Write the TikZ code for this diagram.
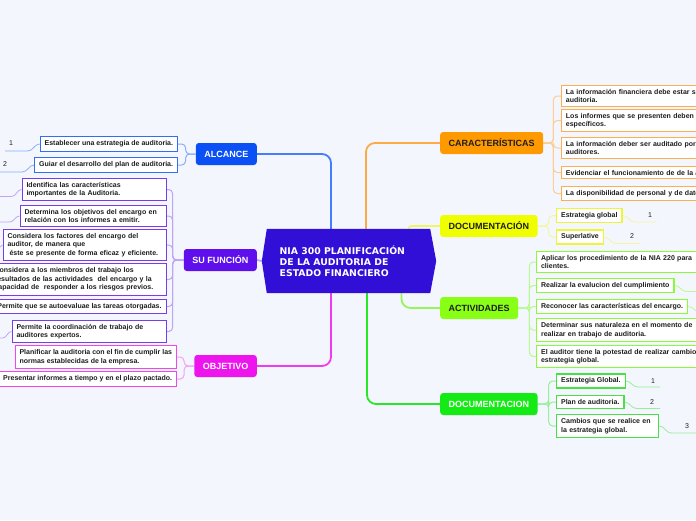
\documentclass[tikz,border=0pt]{standalone}
\usepackage{fontspec}
\setmainfont{Liberation Sans}
\newfontfamily\cenfont{DejaVu Sans}
\pgfdeclarelayer{back}
\pgfsetlayers{back,main}
\definecolor{bg}{RGB}{243,246,253}
\definecolor{txt}{RGB}{30,30,30}
\definecolor{cCen}{RGB}{50,15,215}
\definecolor{cAlc}{RGB}{10,80,245}
\definecolor{cAlcB}{RGB}{50,110,245}
\definecolor{cAlcM}{RGB}{70,125,250}
\definecolor{cAlcL}{RGB}{140,175,250}
\definecolor{cSuf}{RGB}{95,15,235}
\definecolor{cSufB}{RGB}{120,60,235}
\definecolor{cSufM}{RGB}{150,110,245}
\definecolor{cSufL}{RGB}{190,165,248}
\definecolor{cObj}{RGB}{238,20,238}
\definecolor{cObjB}{RGB}{240,70,240}
\definecolor{cObjM}{RGB}{240,60,240}
\definecolor{cObjL}{RGB}{245,160,245}
\definecolor{cCar}{RGB}{255,153,0}
\definecolor{cCarB}{RGB}{252,175,80}
\definecolor{cCarM}{RGB}{252,170,70}
\definecolor{cCarL}{RGB}{252,205,150}
\definecolor{cDoc}{RGB}{240,255,0}
\definecolor{cDocB}{RGB}{235,245,60}
\definecolor{cDocM}{RGB}{240,245,100}
\definecolor{cDocL}{RGB}{245,245,160}
\definecolor{cAct}{RGB}{136,255,20}
\definecolor{cActB}{RGB}{140,250,60}
\definecolor{cActM}{RGB}{150,245,90}
\definecolor{cActL}{RGB}{185,250,145}
\definecolor{cDcn}{RGB}{20,235,20}
\definecolor{cDcnB}{RGB}{70,225,70}
\definecolor{cDcnM}{RGB}{40,230,40}
\definecolor{cDcnL}{RGB}{150,240,150}
\begin{document}
\begin{tikzpicture}[x=1pt,y=-1pt,
  sub/.style={draw, fill=white, line width=0.9pt, font=\fontsize{7}{8.5}\selectfont\bfseries, text=txt, align=left, inner xsep=4.5pt, inner ysep=3.8pt},
  topic/.style={rounded corners=3pt, minimum height=22pt, inner xsep=8.5pt, inner ysep=2pt, font=\fontsize{9}{10}\selectfont\bfseries},
  num/.style={font=\fontsize{7}{8}\selectfont, text=txt, inner sep=1pt},
  mainline/.style={line width=1.8pt, rounded corners=9pt},
  br/.style={line width=1pt, rounded corners=4pt},
  tag/.style={line width=0.8pt},
]
\useasboundingbox (0,0) rectangle (696,520);
\begin{pgfonlayer}{back}
\fill[bg] (0,0) rectangle (696,520);
\end{pgfonlayer}

% central topic
\node[minimum width=163pt, minimum height=64pt, inner sep=0] (c) at (348.5,261) {};
\fill[cCen] (c.north west) -- (c.north east) -- ([xshift=6pt]c.east) -- (c.south east) -- (c.south west) -- ([xshift=-5pt]c.west) -- cycle;
\node[anchor=west, text=white, align=left, font=\cenfont\bfseries\fontsize{9.3}{11}\selectfont, inner sep=0] (ct) at (279.5,261) {NIA 300 PLANIFICACIÓN\\DE LA AUDITORIA DE\\ESTADO FINANCIERO};

% main topics
\node[topic, fill=cAlc, text=white, anchor=east] (alc) at (257,154) {ALCANCE};
\node[topic, fill=cSuf, text=white, anchor=east] (suf) at (257,260) {SU FUNCIÓN};
\node[topic, fill=cObj, text=white, anchor=east] (obj) at (257,366) {OBJETIVO};
\node[topic, fill=cCar, text=txt, anchor=west] (car) at (440,143) {CARACTERÍSTICAS};
\node[topic, fill=cDoc, text=txt, anchor=west] (doc) at (440,226) {DOCUMENTACIÓN};
\node[topic, fill=cAct, text=txt, anchor=west] (act) at (440,308) {ACTIVIDADES};
\node[topic, fill=cDcn, text=white, anchor=west] (dcn) at (440,404) {DOCUMENTACION};

% ALCANCE children
\node[sub, draw=cAlcB, anchor=east] (e1) at (178,144) {Establecer una estrategia de auditoria.};
\node[sub, draw=cAlcB, anchor=east] (e2) at (178,165) {Guiar el desarrollo del plan de auditoria.};
% SU FUNCION children
\node[sub, draw=cSufB, anchor=east, text width=135pt] (s1) at (166.5,189.5) {Identifica las características\\importantes de la Auditoria.};
\node[sub, draw=cSufB, anchor=east, text width=137pt] (s2) at (166.5,216) {Determina los objetivos del encargo en\\relación con los informes a emitir.};
\node[sub, draw=cSufB, anchor=east, text width=154pt] (s3) at (166.5,245) {Considera los factores del encargo del\\auditor, de manera que\\\hspace*{2pt}éste se presente de forma eficaz y eficiente.};
\node[sub, draw=cSufB, anchor=east, text width=167pt] (s4) at (166.5,279.5) {Considera a los miembros del trabajo los\\resultados de las actividades\ \ del encargo y la\\capacidad de\ \ responder a los riesgos previos.};
\node[sub, draw=cSufB, anchor=east] (s5) at (166.5,306.5) {Permite que se autoevaluae las tareas otorgadas.};
\node[sub, draw=cSufB, anchor=east, text width=145pt] (s6) at (166.5,331.5) {Permite la coordinación de trabajo de\\auditores expertos.};
% OBJETIVO children
\node[sub, draw=cObjB, anchor=east] (o1) at (177,357) {Planificar la auditoria con el fin de cumplir las\\normas establecidas de la empresa.};
\node[sub, draw=cObjB, anchor=east] (o2) at (177,379) {Presentar informes a tiempo y en el plazo pactado.};
% CARACTERISTICAS children
\node[sub, draw=cCarB, anchor=west, text width=140pt] (k1) at (561,96) {La información financiera debe estar su\\auditoria.};
\node[sub, draw=cCarB, anchor=west, text width=140pt] (k2) at (561,120.5) {Los informes que se presenten deben s\\específicos.};
\node[sub, draw=cCarB, anchor=west, text width=140pt] (k3) at (561,148) {La información deber ser auditado por\\auditores.};
\node[sub, draw=cCarB, anchor=west, text width=140pt] (k4) at (561,172.5) {Evidenciar el funcionamiento de de la a};
\node[sub, draw=cCarB, anchor=west, text width=140pt] (k5) at (561,193.5) {La disponibilidad de personal y de dato};
% DOCUMENTACION (yellow) children
\node[sub, draw=cDocB, line width=1.2pt, anchor=west] (d1) at (556,215.5) {Estrategia global};
\node[sub, draw=cDocB, line width=1.2pt, anchor=west] (d2) at (556,237) {Superlative};
% ACTIVIDADES children
\node[sub, draw=cActB, line width=1.2pt, anchor=west, text width=165pt] (a1) at (536,262) {Aplicar los procedimiento de la NIA 220 para\\clientes.};
\node[sub, draw=cActB, line width=1.2pt, anchor=west] (a2) at (536,285.5) {Realizar la evalucion del cumplimiento};
\node[sub, draw=cActB, line width=1.2pt, anchor=west] (a3) at (536,306.5) {Reconocer las características del encargo.};
\node[sub, draw=cActB, line width=1.2pt, anchor=west, text width=165pt] (a4) at (536,330) {Determinar sus naturaleza en el momento de\\realizar en trabajo de auditoria.};
\node[sub, draw=cActB, line width=1.2pt, anchor=west, text width=165pt] (a5) at (536,356.5) {El auditor tiene la potestad de realizar cambios\\estrategia global.};
% DOCUMENTACION (green) children
\node[sub, draw=cDcnB, line width=1.2pt, anchor=west] (g1) at (556,381) {Estrategia Global.};
\node[sub, draw=cDcnB, line width=1.2pt, anchor=west] (g2) at (556,402) {Plan de auditoria.};
\node[sub, draw=cDcnB, line width=1.2pt, anchor=west, text width=93pt] (g3) at (556,426) {Cambios que se realice en\\la estrategia global.};

% number labels
\node[num] (n1) at (11,143) {1};
\node[num] (n2) at (5,164.5) {2};
\node[num] (dn1) at (650,215) {1};
\node[num] (dn2) at (632,236.5) {2};
\node[num] (gn1) at (653,381) {1};
\node[num] (gn2) at (652,402) {2};
\node[num] (gn3) at (687,426) {3};

% free ends
\coordinate (t1) at (5,151);
\coordinate (t2) at (0,172);
\coordinate (ts1) at (0,196.5);
\coordinate (ts2) at (0,222);
\coordinate (ts3) at (0,247);
\coordinate (ts6) at (0,338);
\coordinate (td1) at (657,222);
\coordinate (td2) at (640,243.5);
\coordinate (tg1) at (660,387);
\coordinate (tg2) at (660,408.5);
\coordinate (tg3) at (700,433);
\coordinate (ta2) at (710,291.5);
\coordinate (ta3) at (710,312);

\begin{pgfonlayer}{back}
% main connectors
\draw[mainline, cAlcM] (alc.east) -| ([xshift=-17.5pt]c.north);
\draw[mainline, cSufL, rounded corners=0pt] (suf.east) -- ([xshift=-5pt]c.west);
\draw[mainline, cObjM] (obj.east) -| ([xshift=-17.5pt]c.south);
\draw[mainline, cCarM] ([xshift=17.5pt]c.north) |- (car.west);
\draw[mainline, cDocM, rounded corners=3pt] ([xshift=60pt]c.north) |- (doc.west);
\draw[mainline, cActM] ([xshift=53pt]c.south) |- (act.west);
\draw[mainline, cDcnM] ([xshift=18.5pt]c.south) |- (dcn.west);
% branch connectors
\foreach \n in {e1,e2} \draw[br, cAlcL] (alc.west) -- ++(-10,0) |- (\n.east);
\foreach \n in {s1,s2,s3,s4,s5,s6} \draw[br, cSufL] (suf.west) -- ++(-11,0) |- (\n.east);
\foreach \n in {o1,o2} \draw[br, cObjL] (obj.west) -- ++(-10,0) |- (\n.east);
\foreach \n in {k1,k2,k3,k4,k5} \draw[br, cCarL] (car.east) -- ++(10,0) |- (\n.west);
\foreach \n in {d1,d2} \draw[br, cDocL] (doc.east) -- ++(11,0) |- (\n.west);
\foreach \n in {a1,a2,a3,a4,a5} \draw[br, cActL] (act.east) -- ++(11,0) |- (\n.west);
\foreach \n in {g1,g2,g3} \draw[br, cDcnL] (dcn.east) -- ++(11,0) |- (\n.west);
% tag lines
\draw[tag, cAlcL] (e1.west) to[out=180,in=0] ++(-12,7) -- (t1);
\draw[tag, cAlcL] (e2.west) to[out=180,in=0] ++(-12,7) -- (t2);
\draw[tag, cSufL] (s1.west) to[out=180,in=0] ++(-10,7) -- (ts1);
\draw[tag, cSufL] (s2.west) to[out=180,in=0] ++(-10,6) -- (ts2);
\draw[tag, cSufL] (s3.west) to[out=180,in=0] (ts3);
\draw[tag, cSufL] (s6.west) to[out=180,in=0] ++(-9,6.5) -- (ts6);
\draw[tag, cDocL] (d1.east) to[out=0,in=180] ++(12,6.5) -- (td1);
\draw[tag, cDocL] (d2.east) to[out=0,in=180] ++(12,6.5) -- (td2);
\draw[tag, cDcnL] (g1.east) to[out=0,in=180] ++(12,6) -- (tg1);
\draw[tag, cDcnL] (g2.east) to[out=0,in=180] ++(12,6.5) -- (tg2);
\draw[tag, cDcnL] (g3.east) to[out=0,in=180] ++(12,7) -- (tg3);
\draw[tag, cActL] (a2.east) to[out=0,in=180] ++(12,6) -- (ta2);
\draw[tag, cActL] (a3.east) to[out=0,in=180] ++(12,6) -- (ta3);
\end{pgfonlayer}
\end{tikzpicture}
\end{document}
